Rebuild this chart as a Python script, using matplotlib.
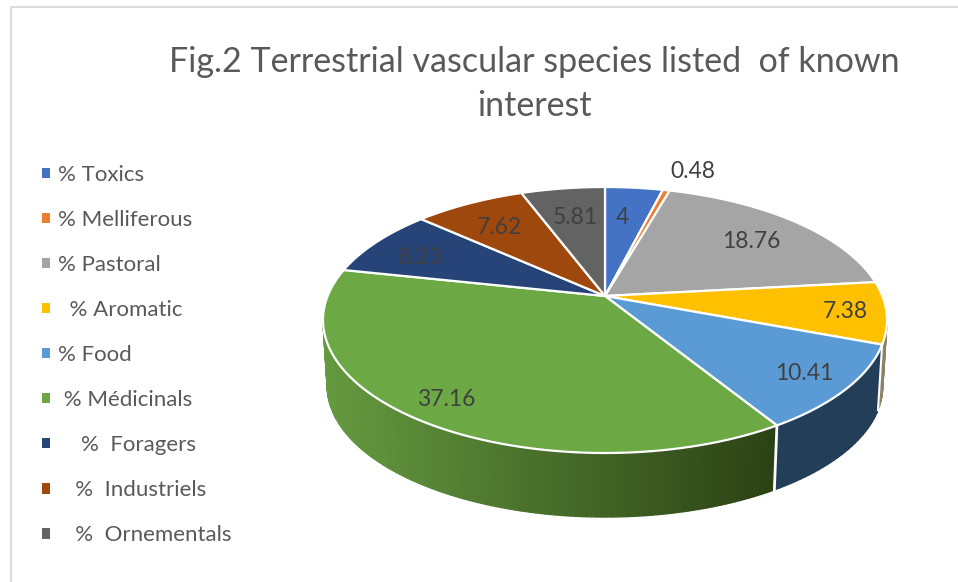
import numpy as np
import matplotlib
matplotlib.use('Agg')
from matplotlib import pyplot as plt
from matplotlib.patches import Rectangle
from matplotlib.transforms import Affine2D
from matplotlib.colors import to_rgb

plt.rcParams['font.family'] = ['Lato', 'DejaVu Sans']

#%% data
labels = ['% Toxics', '% Melliferous', '% Pastoral', '  % Aromatic', '% Food',
          ' % Médicinals', '    %  Foragers', '   %  Industriels', '   %  Ornementals']
values = [4, 0.48, 18.76, 7.38, 10.41, 37.16, 8.23, 7.62, 5.81]
value_text = ['4', '0.48', '18.76', '7.38', '10.41', '37.16', '8.23', '7.62', '5.81']
colors = ['#4472C4', '#ED7D31', '#A5A5A5', '#FFC000', '#5B9BD5',
          '#6CA945', '#264478', '#9E480E', '#636363']
# where the value labels sit, in image pixels
label_px = [(622, 218), (693, 171), (751, 242), (845, 312), (804, 373),
            (447, 399), (420, 258), (499, 227), (575, 218)]

#%% geometry of the tilted disc, in image pixels
W, H = 958, 582
cx, cy, rx, ry = 605, 320, 282, 133
apex = 24 / ry                  # the apex sits above the ellipse centre (perspective)
low_dx, low_dy, low_scale = 0 / rx, -66 / ry, 0.985

fig = plt.figure(figsize=(W / 100, H / 100), dpi=100)
ax = fig.add_axes([0, 0, 1, 1])
ax.set_xlim(-cx / rx, (W - cx) / rx)
ax.set_ylim((cy - H) / ry, cy / ry)
ax.axis('off')
pix = Affine2D().scale(1 / W, -1 / H).translate(0, 1) + fig.transFigure


def rim(theta):
    # where a ray from the apex hits the unit circle, theta clockwise from 12 o'clock
    c = np.cos(theta)
    s = -apex * c + np.sqrt(apex ** 2 * c ** 2 + 1 - apex ** 2)
    return s * np.sin(theta), apex + s * c


def wall(t0, t1, col0, col1=None, n=60):
    col1 = col1 or col0
    ts = np.linspace(t0, t1, n + 1)
    for i in range(n):
        t = ts[i:i + 2]
        tx, ty = np.cos(t), np.sin(t)
        bx, by = tx * low_scale + low_dx, ty * low_scale + low_dy
        f = (tx.mean() + 1) / 1.62
        f = min(max(f, 0), 1)
        col = [a + (b - a) * f for a, b in zip(to_rgb(col0), to_rgb(col1))]
        ax.fill(np.r_[tx, bx[::-1]], np.r_[ty, by[::-1]], color=col, lw=1.0, zorder=1)


edges = np.cumsum([0] + values) / sum(values) * 2 * np.pi
param = [np.arctan2(rim(e)[1], rim(e)[0]) for e in edges]

#%% side walls
t_aro = param[4]
t_food = param[5]
wall(t_aro, 0, '#8c8468', n=6)
wall(t_food, t_aro, '#223E58', n=30)
wall(-np.pi, t_food, '#659A40', '#2B4114', n=120)
for t, w in ((t_food, 2), (t_aro, 1.5)):
    x0, y0 = np.cos(t), np.sin(t)
    x1, y1 = x0 * low_scale + low_dx, y0 * low_scale + low_dy
    ax.plot([x0, x1], [y0, y1], color='white', lw=w, zorder=2)

#%% top face
for i, col in enumerate(colors):
    th = np.linspace(edges[i], edges[i + 1], 80)
    x, y = rim(th)
    ax.fill(np.r_[0, x], np.r_[apex, y], facecolor=col, edgecolor='white', lw=1.6,
            joinstyle='round', zorder=3)

for txt, (px, py) in zip(value_text, label_px):
    ax.text(px, py, txt, transform=pix, fontsize=16.4, color='#404040',
            ha='center', va='center', zorder=5)

#%% title, legend, chart border
fig.text(534, 62, 'Fig.2 Terrestrial vascular species listed  of known', transform=pix,
         fontsize=24.5, color='#595959', ha='center', va='center')
fig.text(534, 106, 'interest', transform=pix,
         fontsize=24.5, color='#595959', ha='center', va='center')

handles = [Rectangle((0, 0), 1, 1, facecolor=c, edgecolor='none') for c in colors]
leg = fig.legend(handles, labels, loc='upper left', bbox_to_anchor=(42, 165), bbox_transform=pix,
                 frameon=False, fontsize=16, labelcolor='#595959', borderpad=0, borderaxespad=0,
                 handlelength=0.36, handleheight=0.36, handletextpad=0.36, labelspacing=1.126)

fig.add_artist(plt.Line2D([11, 11, W], [H, 7, 7], transform=pix, color='#DCDCDC', lw=1.5))

fig.savefig('out.png', dpi=100)
